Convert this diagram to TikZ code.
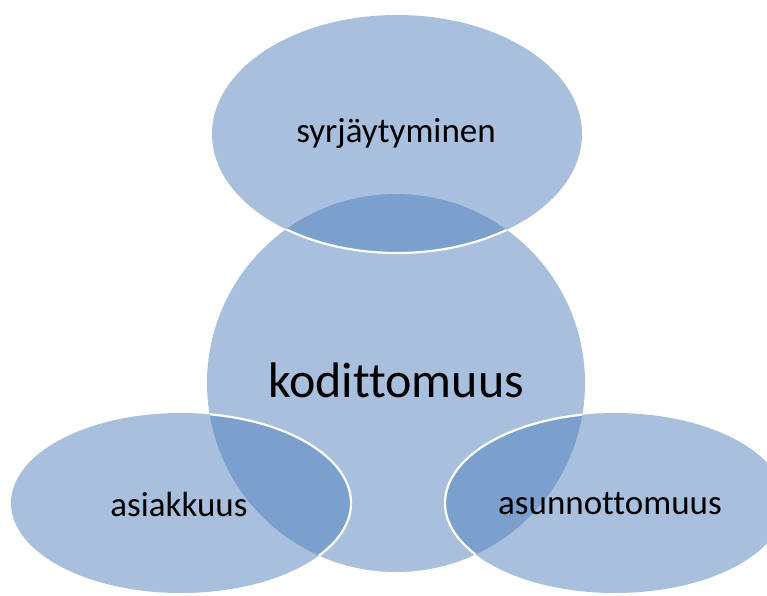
\documentclass[tikz,border=0pt]{standalone}
\usepackage{fontspec}
\setmainfont{Carlito}[Ligatures={NoCommon}]
\definecolor{base}{HTML}{A9BFDE}
\definecolor{overlap}{HTML}{7BA0CD}
\begin{document}
\begin{tikzpicture}[x=1pt,y=-1pt,
  lbl/.style={text=black,inner sep=0pt,font=\fontsize{35}{40}\selectfont},
  biglbl/.style={text=black,inner sep=0pt,font=\fontsize{50}{58}\selectfont},
  rim/.style={draw=white,line width=2.2pt}]
\useasboundingbox (0,0) rectangle (767,595);
\clip (0,0) rectangle (767,595);
\coordinate (cc) at (396,383);
\coordinate (ct) at (397,134);
\coordinate (cl) at (181,503);
\coordinate (cr) at (615,503);
% base shapes
\fill[base] (cc) circle (189);
\fill[base] (ct) ellipse [x radius=185,y radius=119];
\fill[base] (cl) ellipse [x radius=170,y radius=90];
\fill[base] (cr) ellipse [x radius=170,y radius=90];
% overlaps
\begin{scope}
\clip (cc) circle (189);
\fill[overlap] (ct) ellipse [x radius=185,y radius=119];
\fill[overlap] (cl) ellipse [x radius=170,y radius=90];
\fill[overlap] (cr) ellipse [x radius=170,y radius=90];
\draw[rim] (ct) ellipse [x radius=185,y radius=119];
\draw[rim] (cl) ellipse [x radius=170,y radius=90];
\draw[rim] (cr) ellipse [x radius=170,y radius=90];
\end{scope}
% labels
\node[biglbl] (k) at (396,380) {kodittomuus};
\node[lbl] (s) at (396,133) {syrjäytyminen};
\node[lbl] (a) at (179,504) {asiakkuus};
\node[lbl] (u) at (610,504) {asunnottomuus};
\end{tikzpicture}
\end{document}
